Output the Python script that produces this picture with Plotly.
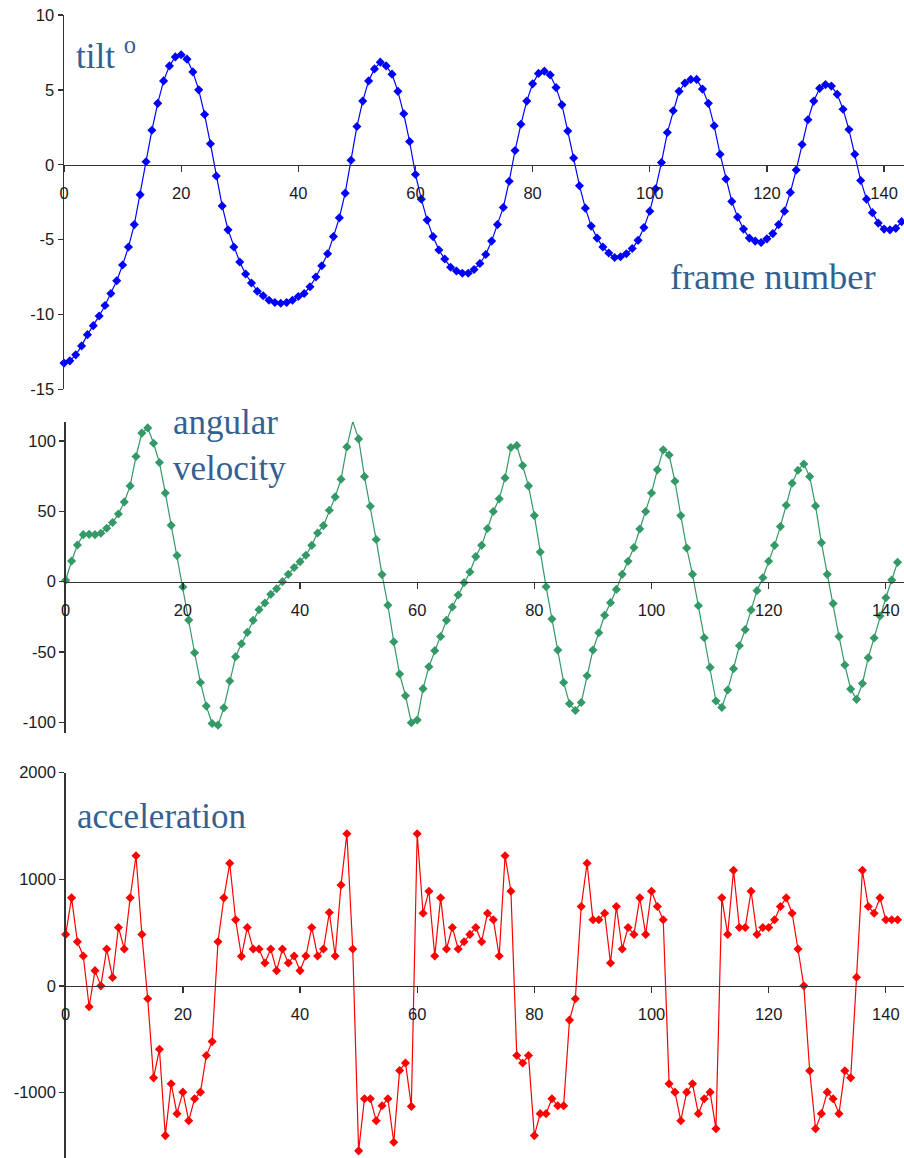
import plotly.graph_objects as go

# ---------------- data ----------------
tilt = [-13.25, -13.1, -12.7, -12.1, -11.35, -10.75, -10.1, -9.4, -8.6, -7.75,
        -6.7, -5.5, -4.0, -2.0, 0.2, 2.3, 4.1, 5.6, 6.6, 7.2,
        7.35, 7.05, 6.2, 5.0, 3.35, 1.4, -0.75, -2.75, -4.35, -5.5,
        -6.5, -7.3, -7.9, -8.45, -8.75, -9.05, -9.2, -9.25, -9.2, -9.05,
        -8.8, -8.6, -8.15, -7.5, -6.75, -5.95, -4.8, -3.55, -1.9, 0.3,
        2.55, 4.25, 5.6, 6.4, 6.85, 6.6, 6.05, 4.9, 3.4, 1.55,
        -0.65, -2.3, -3.7, -4.8, -5.7, -6.3, -6.85, -7.1, -7.25, -7.25,
        -7.0, -6.6, -6.0, -5.1, -4.0, -2.85, -1.1, 0.95, 2.7, 4.25,
        5.4, 6.1, 6.25, 6.0, 5.15, 4.0, 2.25, 0.45, -1.4, -2.9,
        -4.1, -4.9, -5.5, -5.9, -6.2, -6.15, -5.95, -5.6, -5.05, -4.2,
        -3.1, -1.6, 0.15, 2.15, 3.6, 4.9, 5.45, 5.7, 5.7, 5.05,
        4.1, 2.6, 0.7, -0.95, -2.45, -3.5, -4.3, -4.9, -5.1, -5.2,
        -4.95, -4.6, -4.0, -3.1, -1.85, -0.35, 1.35, 3.0, 4.25, 5.1,
        5.35, 5.25, 4.7, 3.7, 2.35, 0.7, -1.05, -2.3, -3.2, -3.9,
        -4.3, -4.35, -4.25, -3.8]

velocity = [1, 14.7, 26, 33.4, 33.6, 33.4, 34.4, 37.9, 42, 48.1,
            56.6, 68, 88.9, 105.5, 109.2, 98.3, 84.6, 63, 40, 18.5,
            -3.8, -27.3, -50.5, -71.6, -88.4, -100.7, -101.9, -89.6, -70.6, -53.3,
            -44.1, -36, -27.5, -19.9, -15.2, -9, -5, 0, 5.2, 10,
            14.2, 18.7, 25.8, 34.6, 39.8, 50.7, 60.2, 72.7, 95.7, 113.7,
            101.4, 74.6, 53.6, 29.9, 5, -16.8, -42.7, -65.6, -81, -100.2,
            -98.3, -76, -60.4, -49, -38.9, -27.5, -18, -9.5, -0.7, 6.9,
            17.8, 25.8, 37.7, 49.8, 58.8, 73.7, 95.3, 96.7, 82.5, 68,
            46.9, 21.1, -3.6, -26.5, -48.6, -71.6, -86.7, -91.5, -85.8, -66.8,
            -48.6, -36.3, -23.9, -14.9, -5.5, 5.2, 14.5, 24.2, 37.4, 49.8,
            63, 79.4, 93.6, 90, 71.3, 46.9, 23.9, 5.2, -17.1, -39.8,
            -60.9, -84.8, -89.3, -77, -61.8, -45.5, -34.1, -20.1, -6.4, 2.8,
            14.5, 25.8, 39.1, 54.3, 69.9, 79.1, 83.6, 74.6, 53.8, 27.7,
            5.2, -15.6, -38.9, -59.2, -76.3, -83.6, -72.3, -54, -40, -24.4,
            -11.4, 1.2, 13.7]

acceleration = [483, 826, 414, 280, -196, 143, 0, 346, 78, 548,
                346, 826, 1221, 483, -121, -863, -595, -1405, -919, -1199,
                -997, -1265, -1059, -997, -654, -523, 414, 826, 1150, 620,
                277, 548, 346, 346, 215, 346, 143, 346, 215, 280,
                143, 280, 548, 280, 346, 688, 280, 947, 1427, 346,
                -1548, -1059, -1059, -1265, -1125, -1059, -1467, -794, -723, -1131,
                1427, 682, 888, 280, 826, 346, 548, 346, 414, 483,
                548, 414, 682, 620, 280, 1221, 888, -654, -723, -654,
                -1405, -1199, -1199, -1059, -1125, -1125, -321, -121, 745, 1150,
                620, 620, 682, 215, 745, 346, 548, 483, 826, 483,
                888, 745, 620, -919, -997, -1265, -997, -919, -1199, -1059,
                -997, -1340, 826, 483, 1084, 548, 548, 888, 483, 548,
                548, 620, 745, 826, 682, 346, 0, -797, -1340, -1199,
                -997, -1059, -1199, -797, -863, 81, 1084, 745, 682, 826,
                620, 620, 620]

frames_tilt = list(range(len(tilt)))
frames_vel = list(range(len(velocity)))
frames_acc = list(range(len(acceleration)))

x_ticks = [0, 20, 40, 60, 80, 100, 120, 140]
tilt_ticks = [-15, -10, -5, 0, 5, 10]
vel_ticks = [-100, -50, 0, 50, 100]
acc_ticks = [-1000, 0, 1000, 2000]

# ---------------- layout helpers ----------------
W, H = 904, 1158


def fx(px):
    return px / W


def fy(py):
    return 1 - py / H


BLUE = "#0000FF"
GREEN = "#339966"
RED = "#FF0000"
AXIS = "#333333"
TEXT = "#33618f"
TICKFONT = dict(family="Liberation Sans, Arial, sans-serif", size=16.5, color="#1a1a1a")
LABELFONT = dict(family="Liberation Serif, Times New Roman, serif", size=35, color=TEXT)

fig = go.Figure()

fig.add_trace(go.Scatter(x=frames_tilt, y=tilt, mode="lines+markers",
                         line=dict(color=BLUE, width=1.2),
                         marker=dict(symbol="diamond", size=7, color=BLUE),
                         xaxis="x", yaxis="y", cliponaxis=False, showlegend=False))
fig.add_trace(go.Scatter(x=frames_vel, y=velocity, mode="lines+markers",
                         line=dict(color=GREEN, width=1.2),
                         marker=dict(symbol="diamond", size=7, color=GREEN),
                         xaxis="x2", yaxis="y2", cliponaxis=False, showlegend=False))
fig.add_trace(go.Scatter(x=frames_acc, y=acceleration, mode="lines+markers",
                         line=dict(color=RED, width=1.2),
                         marker=dict(symbol="diamond", size=7, color=RED),
                         xaxis="x3", yaxis="y3", cliponaxis=False, showlegend=False))

# panel geometry in pixels: (left, top, bottom, y_min, y_max, x_max, ticks)
panels = [
    (64.0, 15.0, 389.3, -15, 10, 143.4, tilt_ticks),
    (65.7, 421.7, 733.3, -107.7, 113.6, 143.1, vel_ticks),
    (65.7, 772.7, 1158.0, -1615, 2000, 143.1, acc_ticks),
]

layout = {}
for i, (left, top, bottom, ymin, ymax, xmax, yt) in enumerate(panels):
    sfx = "" if i == 0 else str(i + 1)
    y0 = fy(bottom)
    y1 = fy(top)
    zero_pos = y0 + (0 - ymin) / (ymax - ymin) * (y1 - y0)
    layout["xaxis" + sfx] = dict(
        domain=[fx(left), 1.0], range=[0, xmax], anchor="free", position=zero_pos,
        tickvals=x_ticks, ticktext=[str(v) for v in x_ticks],
        ticks="outside", ticklen=6, tickwidth=1.3, tickcolor=AXIS,
        showline=True, linecolor=AXIS, linewidth=1.5, showgrid=False, zeroline=False,
        tickfont=TICKFONT, ticklabelstandoff=7, fixedrange=True, automargin=False,
    )
    layout["yaxis" + sfx] = dict(
        domain=[y0, y1], range=[ymin, ymax], anchor="x" + sfx,
        tickvals=yt, ticktext=[str(v) for v in yt],
        ticks="outside", ticklen=5, tickwidth=1.3, tickcolor=AXIS,
        showline=True, linecolor=AXIS, linewidth=1.5, showgrid=False, zeroline=False,
        tickfont=TICKFONT, fixedrange=True, automargin=False,
    )

fig.update_layout(**layout)

annotations = [
    ("tilt <sup>o</sup>", 74, 29, 35),
    ("frame number", 668, 254, 36.5),
    ("angular<br>velocity", 171, 401, 35),
    ("acceleration", 75, 795, 35),
]
fig.update_layout(annotations=[
    dict(text=t, x=fx(xp), y=fy(yp), xref="paper", yref="paper",
         xanchor="left", yanchor="top", showarrow=False, align="left",
         font=dict(LABELFONT, size=fs))
    for t, xp, yp, fs in annotations
])

fig.update_layout(width=W, height=H, margin=dict(l=0, r=0, t=0, b=0, autoexpand=False),
                  paper_bgcolor="white", plot_bgcolor="white", hovermode=False)

fig.write_html("out.html", config={"displayModeBar": False, "staticPlot": True},
               post_script="document.body.style.margin='0px';document.body.style.overflow='hidden';")
